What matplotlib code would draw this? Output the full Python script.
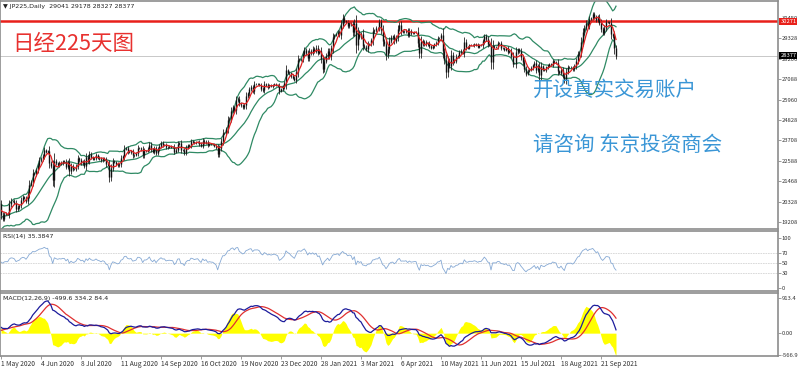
import numpy as np
import pandas as pd
import matplotlib
matplotlib.use("Agg")
import matplotlib.pyplot as plt
import matplotlib.transforms as mtransforms

plt.rcParams['font.family'] = ['Noto Sans CJK SC', 'DejaVu Sans']

# closes before the visible window (Feb-Apr 2020), only used to warm up the indicators
warmup = [22971, 23084, 23319, 23873, 23827, 23685, 23600, 23861, 23827, 23687,
          23523, 23193, 23400, 23479, 23386, 22800, 22605, 22426, 21948, 21142,
          21344, 21082, 21100, 21329, 20749, 19698, 19867, 19416, 18559, 17431,
          17002, 17012, 16726, 16552, 16900, 16887, 18092, 19546, 18665, 19389,
          19084, 18917, 18065, 17819, 17820, 18576, 18950, 19353, 19345, 19498,
          19043, 19638, 19550, 19290, 19897, 19669, 19280, 19137, 19429, 19262,
          19783, 19771, 19900, 20193]

# daily closes, 1 May 2020 .. 4 Oct 2021 (one per weekday bar)
closes = [19619,
          19400, 19650, 19700, 19674, 20179,  # May 2020
          20390, 20366, 20267, 19914, 20037,
          20133, 20433, 20595, 20552, 20388,
          20741, 21271, 21419, 21916, 21877,
          22062, 22325, 22613, 22695, 22863,  # Jun
          23178, 23091, 23124, 22472, 22305,
          21530, 22582, 22455, 22355, 22479,
          22437, 22549, 22534, 22260, 22512,
          21995, 22289, 22122, 22146, 22306,
          22714, 22614, 22438, 22529, 22291,  # Jul
          22784, 22587, 22945, 22770, 22696,
          22717, 22884, 22751, 22700, 22600,
          22715, 22657, 22397, 22339, 21710,
          22195, 22573, 22514, 22418, 22329,  # Aug
          22400, 22750, 22843, 23249, 23289,
          23097, 23051, 23110, 22880, 22920,
          22985, 23296, 23290, 23209, 22882,
          23140, 23138, 23247, 23465, 23205,  # Sep
          23089, 23274, 23032, 23235, 23406,
          23559, 23454, 23475, 23319, 23360,
          23380, 23360, 23346, 23087, 23204,
          23511, 23539, 23185, 23185, 23029,  # Oct
          23312, 23433, 23422, 23647, 23619,
          23558, 23601, 23626, 23507, 23410,
          23671, 23567, 23639, 23474, 23516,
          23494, 23485, 23418, 23331, 22977,
          23295, 23650, 24105, 24105, 24325,  # Nov
          24839, 24905, 25349, 25520, 25385,
          25906, 26014, 25728, 25634, 25527,
          25650, 26165, 26296, 26537, 26644,
          26433, 26787, 26800, 26809, 26751,  # Dec
          26547, 26467, 26817, 26756, 26652,
          26732, 26687, 26757, 26806, 26763,
          26714, 26436, 26524, 26668,
          26854, 27568, 27444, 27400,
          27258, 27158, 27056, 27490, 28139,  # Jan 2021
          28200, 28164, 28456, 28698, 28519,
          28242, 28633, 28523, 28756, 28631,
          28822, 28546, 28635, 28197, 27663,
          28091, 28362, 28646, 28341, 28779,  # Feb
          29388, 29505, 29562, 29700, 29520,
          30084, 30467, 30292, 30236, 30017,
          30156, 30100, 29671, 30168, 28966,
          29663, 29408, 29559, 28930, 28864,  # Mar
          28743, 29027, 29036, 29211, 29717,
          29766, 29921, 29914, 30216, 29792,
          29174, 28996, 28405, 28729, 29176,
          29384, 29432, 29178, 29388, 29854,
          30089, 29696, 29730, 29708, 29768,  # Apr
          29538, 29751, 29620, 29642, 29683,
          29685, 29100, 28508, 29188, 29020,
          29126, 28991, 29053, 28900, 28812,
          28900, 29000, 29100, 29331, 29357,  # May
          29518, 28608, 28147, 27448, 28084,
          27824, 28406, 28044, 28098, 28317,
          28364, 28553, 28642, 28549, 29149,
          28860, 28814, 28946, 28946, 28941,  # Jun
          29019, 28963, 28860, 28958, 28948,
          29161, 29441, 29291, 29018, 28964,
          28010, 28884, 28874, 28875, 29066,
          29048, 28812, 28791, 28707, 28783,
          28598, 28643, 28366, 27940, 27940,  # Jul
          28569, 28718, 28608, 28279, 28003,
          27652, 27388, 27548, 27600, 27700,
          27833, 27970, 27581, 27782, 27283,
          27781, 27641, 27584, 27728, 27820,  # Aug
          27900, 27888, 28070, 28015, 27977,
          27523, 27424, 27585, 27281, 27013,
          27494, 27732, 27724, 27742, 27641,
          27789, 28089, 28451, 28543, 29128,  # Sep
          29660, 29916, 30181, 30008, 30381,
          30447, 30670, 30511, 30323, 30500,
          30200, 29839, 29639, 29900, 30248,
          30240, 30183, 29544, 29452, 28771,
          28377]

date_labels = ["1 May 2020", "4 Jun 2020", "8 Jul 2020", "11 Aug 2020", "14 Sep 2020",
               "16 Oct 2020", "19 Nov 2020", "23 Dec 2020", "28 Jan 2021", "3 Mar 2021",
               "6 Apr 2021", "10 May 2021", "11 Jun 2021", "15 Jul 2021", "18 Aug 2021",
               "21 Sep 2021"]
price_labels = ["30450", "29328", "28206", "27088", "25960", "24828", "23708",
                "22588", "21468", "20328", "19208"]
rsi_levels = [70, 50, 30]
rsi_labels = ["100", "70", "50", "30", "0"]
macd_labels = ["913.4", "0.00", "-566.9"]
level_price = 30271
last_price = 28377
header = "JP225,Daily  29041 29178 28327 28377"

# ---- indicators
s = pd.Series(warmup + closes, dtype=float)
n0 = len(warmup)
mid = s.rolling(20).mean()
sd = s.rolling(20).std(ddof=0)
up, lo = mid + 2 * sd, mid - 2 * sd
ma = s.rolling(5).mean()
macd = s.ewm(span=12, adjust=False).mean() - s.ewm(span=26, adjust=False).mean()
sig = macd.rolling(9).mean()
hist = 2 * (macd - sig)
d = s.diff()
g = d.clip(lower=0).ewm(alpha=1 / 14, adjust=False).mean()
l = (-d.clip(upper=0)).ewm(alpha=1 / 14, adjust=False).mean()
rsi = 100 - 100 / (1 + g / l)

c = s.values[n0:]
o = s.shift(1).values[n0:]
N = len(c)
x = np.arange(N)
hi = np.maximum(o, c) + 0.35 * np.abs(c - o) + 50
lw_ = np.minimum(o, c) - 0.35 * np.abs(c - o) - 50

W, H = 800, 370
def box(top, bottom):
    return [0, 1 - bottom / H, 778 / W, (bottom - top) / H]

fig = plt.figure(figsize=(8, 3.7), dpi=100)
ax1 = fig.add_axes(box(1, 229))
ax2 = fig.add_axes(box(231, 291))
ax3 = fig.add_axes(box(293, 356))
xlim = (-0.6, 466.2)
grey = '#8c8c8c'
for ax in (ax1, ax2, ax3):
    ax.set_xlim(*xlim)
    for sp in ax.spines.values():
        sp.set_color(grey)
        sp.set_linewidth(1.2)
    ax.yaxis.tick_right()
    ax.tick_params(axis='y', length=2, width=0.6, color=grey, labelsize=4.2,
                   labelcolor='#333333', pad=0.8)
    ax.set_xticks([])

# ---- price panel
ax1.set_ylim(18824, 31387)
ax1.axhline(last_price, color='#c8c8c8', lw=0.7)
ax1.axhline(level_price, color='#e8201a', lw=1.8)
bb = '#2f8a64'
ax1.plot(x, up.values[n0:], color=bb, lw=0.9)
ax1.plot(x, mid.values[n0:], color=bb, lw=0.9)
ax1.plot(x, lo.values[n0:], color=bb, lw=0.9)
ax1.vlines(x, lw_, hi, color='#222222', lw=0.6)
ax1.vlines(x, np.minimum(o, c), np.maximum(o, c), color='#111111', lw=1.0)
ax1.plot(x, ma.values[n0:], color='#e02020', lw=0.9)
pt = np.linspace(30450, 19208, len(price_labels))
ax1.set_yticks(pt)
ax1.set_yticklabels(price_labels)
tr = mtransforms.blended_transform_factory(ax1.transAxes, ax1.transData)
ax1.text(1.003, level_price, str(level_price), transform=tr, fontsize=4.2, color='white',
         va='center', ha='left', bbox=dict(boxstyle='square,pad=0.15', fc='#e8201a', ec='none'))
ax1.text(1.003, last_price, str(last_price), transform=tr, fontsize=4.2, color='white',
         va='center', ha='left', bbox=dict(boxstyle='square,pad=0.15', fc='black', ec='none'))
ax1.text(0.004, 0.985, "\u25bc " + header, transform=ax1.transAxes, fontsize=4.5,
         color='#222222', va='top', ha='left', family=['DejaVu Sans'])

# ---- RSI panel
ax2.set_ylim(-6, 114)
for lv in rsi_levels:
    ax2.axhline(lv, color='#d4d4d4', lw=0.6, ls=(0, (2, 1)))
ax2.plot(x, rsi.values[n0:], color='#86a9d4', lw=0.6)
ax2.set_yticks([100, 70, 50, 30, 0])
ax2.set_yticklabels(rsi_labels)
ax2.text(0.004, 0.95, "RSI(14) 35.3847", transform=ax2.transAxes, fontsize=4.5,
         color='#222222', va='top', ha='left', family=['DejaVu Sans'])

# ---- MACD panel
ax3.set_ylim(-592, 1041)
ax3.fill_between(x, 0, hist.values[n0:], color='#ffff00', lw=0)
ax3.plot(x, sig.values[n0:], color='#e03030', lw=0.9)
ax3.plot(x, macd.values[n0:], color='#1c1c9c', lw=0.9)
ax3.set_yticks([913.4, 0, -566.9])
ax3.set_yticklabels(macd_labels)
ax3.text(0.004, 0.95, "MACD(12,26,9) -499.6 334.2 84.4", transform=ax3.transAxes,
         fontsize=4.5, color='#222222', va='top', ha='left', family=['DejaVu Sans'])
ax3.set_xticks(np.arange(len(date_labels)) * 24)
ax3.set_xticklabels(date_labels, ha='left')
ax3.tick_params(axis='x', length=2, width=0.6, color=grey, labelsize=4.8,
                labelcolor='#333333', pad=1)

# ---- overlay captions
fig.text(12 / W, 1 - 44 / H, "日经225天图", fontsize=15.5, color='#e8312f',
         va='center', ha='left')
fig.text(533 / W, 1 - 90 / H, "开设真实交易账户", fontsize=14.8, color='#3a96d6',
         va='center', ha='left')
fig.text(533 / W, 1 - 145 / H, "请咨询 东京投资商会", fontsize=14.8, color='#3a96d6',
         va='center', ha='left')

fig.savefig('out.png', dpi=100)
